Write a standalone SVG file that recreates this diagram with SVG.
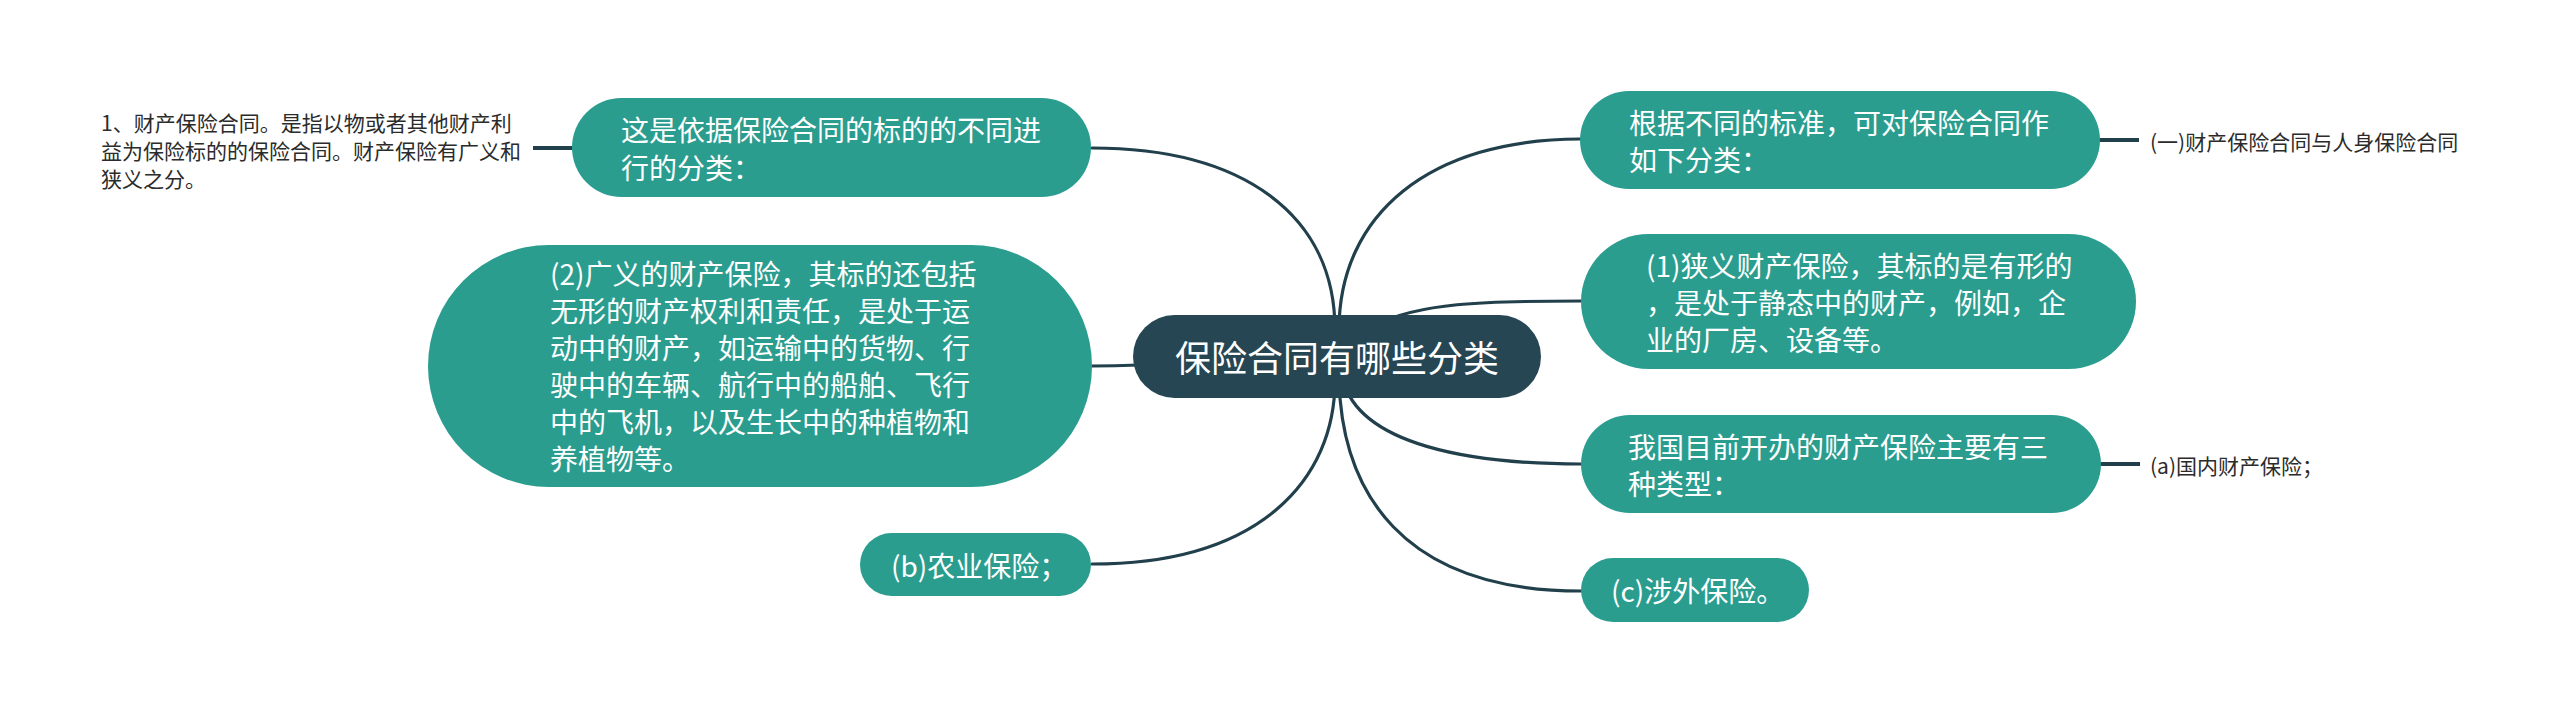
<svg xmlns="http://www.w3.org/2000/svg" width="2560" height="713" viewBox="0 0 2560 713">
<style>
.bg{fill:#ffffff}
.edge{fill:none;stroke:#22404c;stroke-width:3.2;stroke-linecap:round}
.edge2{fill:none;stroke:#22404c;stroke-width:4}
.root{fill:#264653}
.sub{fill:#2a9d8f}
.t{font-family:"Noto Sans CJK SC","Noto Sans",sans-serif;fill:#ffffff;dominant-baseline:central}
.tr{font-size:36px}
.tn{font-size:28px}
.tl{font-family:"Noto Sans CJK SC","Noto Sans",sans-serif;fill:#2b2b2b;font-size:21px;dominant-baseline:central}
</style>
<rect class="bg" x="0" y="0" width="2560" height="713"/>
<g id="connectors">
<path class="edge" d="M1335,330 C1335,214 1242,148 1092,148"/>
<path class="edge" d="M1192,362 C1150,365 1120,366 1092,366"/>
<path class="edge" d="M1335,380 C1335,480 1260,564 1092,564"/>
<path class="edge" d="M1339,330 C1339,214 1430,139 1580,139"/>
<path class="edge" d="M1375,325 C1420,303 1480,301 1581,301"/>
<path class="edge" d="M1343,380 C1360,445 1470,464 1581,464"/>
<path class="edge" d="M1339,380 C1342,490 1400,591 1581,591"/>
<line class="edge2" x1="533" y1="148" x2="573" y2="148"/>
<line class="edge2" x1="2099" y1="140" x2="2139" y2="140"/>
<line class="edge2" x1="2100" y1="464" x2="2140" y2="464"/>
</g>
<g id="root">
<rect class="root" x="1133" y="315" width="408" height="83" rx="41.5"/>
<text class="t tr" x="1337" y="356" text-anchor="middle">保险合同有哪些分类</text>
</g>
<g id="node-l1">
<rect class="sub" x="572" y="98" width="519" height="99" rx="49.5"/>
<text class="t tn" x="621"><tspan x="621" y="129">这是依据保险合同的标的的不同进</tspan><tspan x="621" y="167">行的分类：</tspan></text>
</g>
<g id="leaf-l1">
<text class="tl" x="101"><tspan x="101" y="122">1、财产保险合同。是指以物或者其他财产利</tspan><tspan x="101" y="150">益为保险标的的保险合同。财产保险有广义和</tspan><tspan x="101" y="178">狭义之分。</tspan></text>
</g>
<g id="node-l2">
<rect class="sub" x="428" y="245" width="664" height="242" rx="121"/>
<text class="t tn" x="550"><tspan x="550" y="273">(2)广义的财产保险，其标的还包括</tspan><tspan x="550" y="310">无形的财产权利和责任，是处于运</tspan><tspan x="550" y="347">动中的财产，如运输中的货物、行</tspan><tspan x="550" y="384">驶中的车辆、航行中的船舶、飞行</tspan><tspan x="550" y="421">中的飞机，以及生长中的种植物和</tspan><tspan x="550" y="458">养植物等。</tspan></text>
</g>
<g id="node-l3">
<rect class="sub" x="860" y="533" width="231" height="63" rx="31.5"/>
<text class="t tn" x="891" y="565">(b)农业保险；</text>
</g>
<g id="node-r1">
<rect class="sub" x="1580" y="91" width="520" height="98" rx="49"/>
<text class="t tn" x="1629"><tspan x="1629" y="121.5">根据不同的标准，可对保险合同作</tspan><tspan x="1629" y="158.5">如下分类：</tspan></text>
</g>
<g id="leaf-r1">
<text class="tl" x="2150" y="141">(一)财产保险合同与人身保险合同</text>
</g>
<g id="node-r2">
<rect class="sub" x="1581" y="234" width="555" height="135" rx="67.5"/>
<text class="t tn" x="1646"><tspan x="1646" y="264.5">(1)狭义财产保险，其标的是有形的</tspan><tspan x="1646" y="301.5">，是处于静态中的财产，例如，企</tspan><tspan x="1646" y="338.5">业的厂房、设备等。</tspan></text>
</g>
<g id="node-r3">
<rect class="sub" x="1581" y="415" width="520" height="98" rx="49"/>
<text class="t tn" x="1628"><tspan x="1628" y="445.5">我国目前开办的财产保险主要有三</tspan><tspan x="1628" y="482.5">种类型：</tspan></text>
</g>
<g id="leaf-r3">
<text class="tl" x="2150" y="465">(a)国内财产保险；</text>
</g>
<g id="node-r4">
<rect class="sub" x="1581" y="558" width="228" height="64" rx="32"/>
<text class="t tn" x="1611" y="590">(c)涉外保险。</text>
</g>
</svg>
